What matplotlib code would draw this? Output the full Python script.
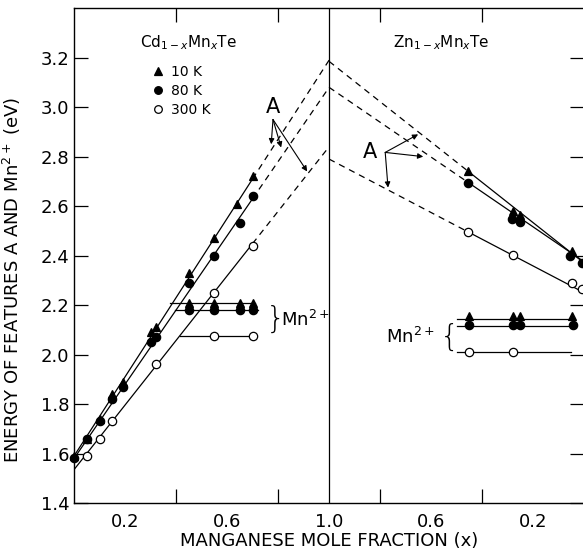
import matplotlib
matplotlib.use("Agg")
import matplotlib.pyplot as plt
from matplotlib.lines import Line2D
import numpy as np

# Cd(1-x)Mn(x)Te, feature A (left half, x runs 0 -> 1)
cd_10k_x = [0.0, 0.05, 0.10, 0.15, 0.19, 0.30, 0.32, 0.45, 0.55, 0.64, 0.70]
cd_10k_y = [1.59, 1.66, 1.74, 1.84, 1.89, 2.09, 2.11, 2.33, 2.47, 2.61, 2.72]
cd_80k_x = [0.0, 0.05, 0.10, 0.15, 0.19, 0.30, 0.32, 0.45, 0.55, 0.65, 0.70]
cd_80k_y = [1.58, 1.66, 1.73, 1.82, 1.87, 2.05, 2.07, 2.29, 2.40, 2.53, 2.64]
cd_300k_x = [0.05, 0.10, 0.15, 0.32, 0.55, 0.70]
cd_300k_y = [1.59, 1.66, 1.73, 1.96, 2.25, 2.44]
# straight fits: value at x=0 and at x=1 (10 K, 80 K, 300 K)
cd_fit_at0 = [1.59, 1.58, 1.535]
cd_fit_at1 = [3.19, 3.08, 2.84]
cd_solid_end = [0.70, 0.70, 0.70]

# Cd(1-x)Mn(x)Te, Mn2+ feature
cd_mn_10k_x = [0.45, 0.55, 0.65, 0.70]
cd_mn_80k_x = [0.45, 0.55, 0.65, 0.70]
cd_mn_300k_x = [0.55, 0.70]
cd_mn_level = [2.21, 2.18, 2.075]
cd_mn_from = [0.375, 0.395, 0.415]
cd_mn_to = [0.71, 0.72, 0.70]

# Zn(1-x)Mn(x)Te, feature A (right half, x runs 1 -> 0)
zn_10k_x = [0.455, 0.278, 0.25, 0.047]
zn_10k_y = [2.74, 2.58, 2.566, 2.42]
zn_80k_x = [0.455, 0.282, 0.251, 0.055, 0.008]
zn_80k_y = [2.695, 2.546, 2.534, 2.40, 2.37]
zn_300k_x = [0.455, 0.278, 0.047, 0.008]
zn_300k_y = [2.497, 2.404, 2.29, 2.267]
zn_fit_at1 = [3.185, 3.08, 2.79]
zn_fit_at0 = [2.37, 2.375, 2.25]
zn_solid_start = [0.455, 0.455, 0.455]

# Zn(1-x)Mn(x)Te, Mn2+ feature
zn_mn_10k_x = [0.451, 0.278, 0.25, 0.047]
zn_mn_80k_x = [0.451, 0.278, 0.25, 0.045]
zn_mn_300k_x = [0.451, 0.278]
zn_mn_marker_y = [2.155, 2.118, 2.01]
zn_mn_level = [2.145, 2.115, 2.01]
zn_mn_from = [0.50, 0.50, 0.50]
zn_mn_to = [0.05, 0.05, 0.05]

temps = ["10 K", "80 K", "300 K"]
markers = ["^", "o", "o"]
faces = ["black", "black", "white"]

bottom_ticks = [0.2, 0.4, 0.6, 0.8, 1.2, 1.4, 1.6, 1.8]
bottom_labels = {0.2: "0.2", 0.6: "0.6", 1.0: "1.0", 1.4: "0.6", 1.8: "0.2"}
y_ticks = [1.4, 1.6, 1.8, 2.0, 2.2, 2.4, 2.6, 2.8, 3.0, 3.2]


def right(x):
    # position on the shared axis for the ZnMnTe half
    return 2.0 - np.asarray(x, dtype=float)


plt.rcParams["font.family"] = ["DejaVu Sans"]
fig = plt.figure(figsize=(5.83, 5.56), dpi=100)
ax = fig.add_axes([0.127, 0.0953, 0.875, 0.890])

lw = 0.9
dash = (0, (5, 4))
ms = 6

# left half lines
for i in range(3):
    a0, a1, xe = cd_fit_at0[i], cd_fit_at1[i], cd_solid_end[i]
    xs = np.array([0.0, xe])
    ax.plot(xs, a0 + (a1 - a0) * xs, color="black", lw=lw)
    xd = np.array([xe, 1.0])
    ax.plot(xd, a0 + (a1 - a0) * xd, color="black", lw=lw, ls=dash)
    ax.plot([cd_mn_from[i], cd_mn_to[i]], [cd_mn_level[i]] * 2, color="black", lw=lw)

# right half lines
for i in range(3):
    b0, b1, xs0 = zn_fit_at0[i], zn_fit_at1[i], zn_solid_start[i]
    xs = np.array([xs0, 0.0])
    ax.plot(right(xs), b0 + (b1 - b0) * xs, color="black", lw=lw)
    xd = np.array([1.0, xs0])
    ax.plot(right(xd), b0 + (b1 - b0) * xd, color="black", lw=lw, ls=dash)
    ax.plot(right([zn_mn_from[i], zn_mn_to[i]]), [zn_mn_level[i]] * 2, color="black", lw=lw)

# data points
a_sets = [(cd_10k_x, cd_10k_y, zn_10k_x, zn_10k_y),
          (cd_80k_x, cd_80k_y, zn_80k_x, zn_80k_y),
          (cd_300k_x, cd_300k_y, zn_300k_x, zn_300k_y)]
cd_mn_sets = [cd_mn_10k_x, cd_mn_80k_x, cd_mn_300k_x]
zn_mn_sets = [zn_mn_10k_x, zn_mn_80k_x, zn_mn_300k_x]
for i in range(3):
    style = dict(ls="none", marker=markers[i], ms=ms, mfc=faces[i], mec="black", mew=0.9,
                 zorder=3, clip_on=False)
    cx, cy, zx, zy = a_sets[i]
    ax.plot(cx, cy, **style)
    ax.plot(right(zx), zy, **style)
    ax.plot(cd_mn_sets[i], [cd_mn_level[i]] * len(cd_mn_sets[i]), **style)
    ax.plot(right(zn_mn_sets[i]), [zn_mn_marker_y[i]] * len(zn_mn_sets[i]), **style)

# middle divider at x = 1
ax.axvline(1.0, color="black", lw=lw)

# legend
handles = [Line2D([], [], ls="none", marker=markers[i], ms=ms - 0.5, mfc=faces[i],
                  mec="black", mew=0.9) for i in range(3)]
ax.legend(handles, temps, loc="upper left", bbox_to_anchor=(0.135, 0.905), frameon=False,
          fontsize=10, handlelength=0.8, handletextpad=0.5, labelspacing=0.35,
          borderpad=0.2)

ax.text(0.26, 3.26, "Cd$_{1-x}$Mn$_x$Te", fontsize=11, va="center")
ax.text(1.25, 3.26, "Zn$_{1-x}$Mn$_x$Te", fontsize=11, va="center")

# "A" labels with arrows
arr = dict(arrowstyle="-|>", color="black", lw=0.8, mutation_scale=8, shrinkA=0, shrinkB=0)
ax.text(0.78, 3.0, "A", fontsize=15, ha="center", va="center")
for tx, ty in [(0.773, 2.85), (0.812, 2.837), (0.914, 2.74)]:
    ax.annotate("", xy=(tx, ty), xytext=(0.78, 2.95), arrowprops=arr)
ax.text(1.16, 2.82, "A", fontsize=15, ha="center", va="center")
for tx, ty in [(1.349, 2.89), (1.369, 2.80), (1.231, 2.675)]:
    ax.annotate("", xy=(tx, ty), xytext=(1.22, 2.817), arrowprops=arr)

# Mn2+ braces
ax.text(0.75, 2.141, "}", fontsize=22, ha="left", va="center", fontweight="light")
ax.text(0.81, 2.141, "Mn$^{2+}$", fontsize=13, ha="left", va="center")
ax.text(1.435, 2.07, "{", fontsize=22, ha="left", va="center", fontweight="light")
ax.text(1.415, 2.07, "Mn$^{2+}$", fontsize=13, ha="right", va="center")

ax.set_xlim(0, 2.0)
ax.set_ylim(1.4, 3.4)

ax.set_xticks(bottom_ticks, minor=True)
ax.set_xticks(list(bottom_labels.keys()))
ax.set_xticklabels(list(bottom_labels.values()))
ax.set_yticks(y_ticks)
ax.tick_params(axis="both", which="both", direction="in", length=10, width=0.9,
               top=True, right=True, labelsize=13)
ax.tick_params(axis="x", which="major", length=0, pad=7)
ax.tick_params(axis="x", which="minor", length=10)
for s in ax.spines.values():
    s.set_linewidth(1.0)

ax.set_ylabel("ENERGY OF FEATURES A AND Mn$^{2+}$ (eV)", fontsize=13)
ax.yaxis.set_label_coords(-0.10, 0.45)
ax.set_xlabel("MANGANESE MOLE FRACTION (x)", fontsize=13)
ax.xaxis.set_label_coords(0.5, -0.058)

fig.savefig("out.png", dpi=100)
